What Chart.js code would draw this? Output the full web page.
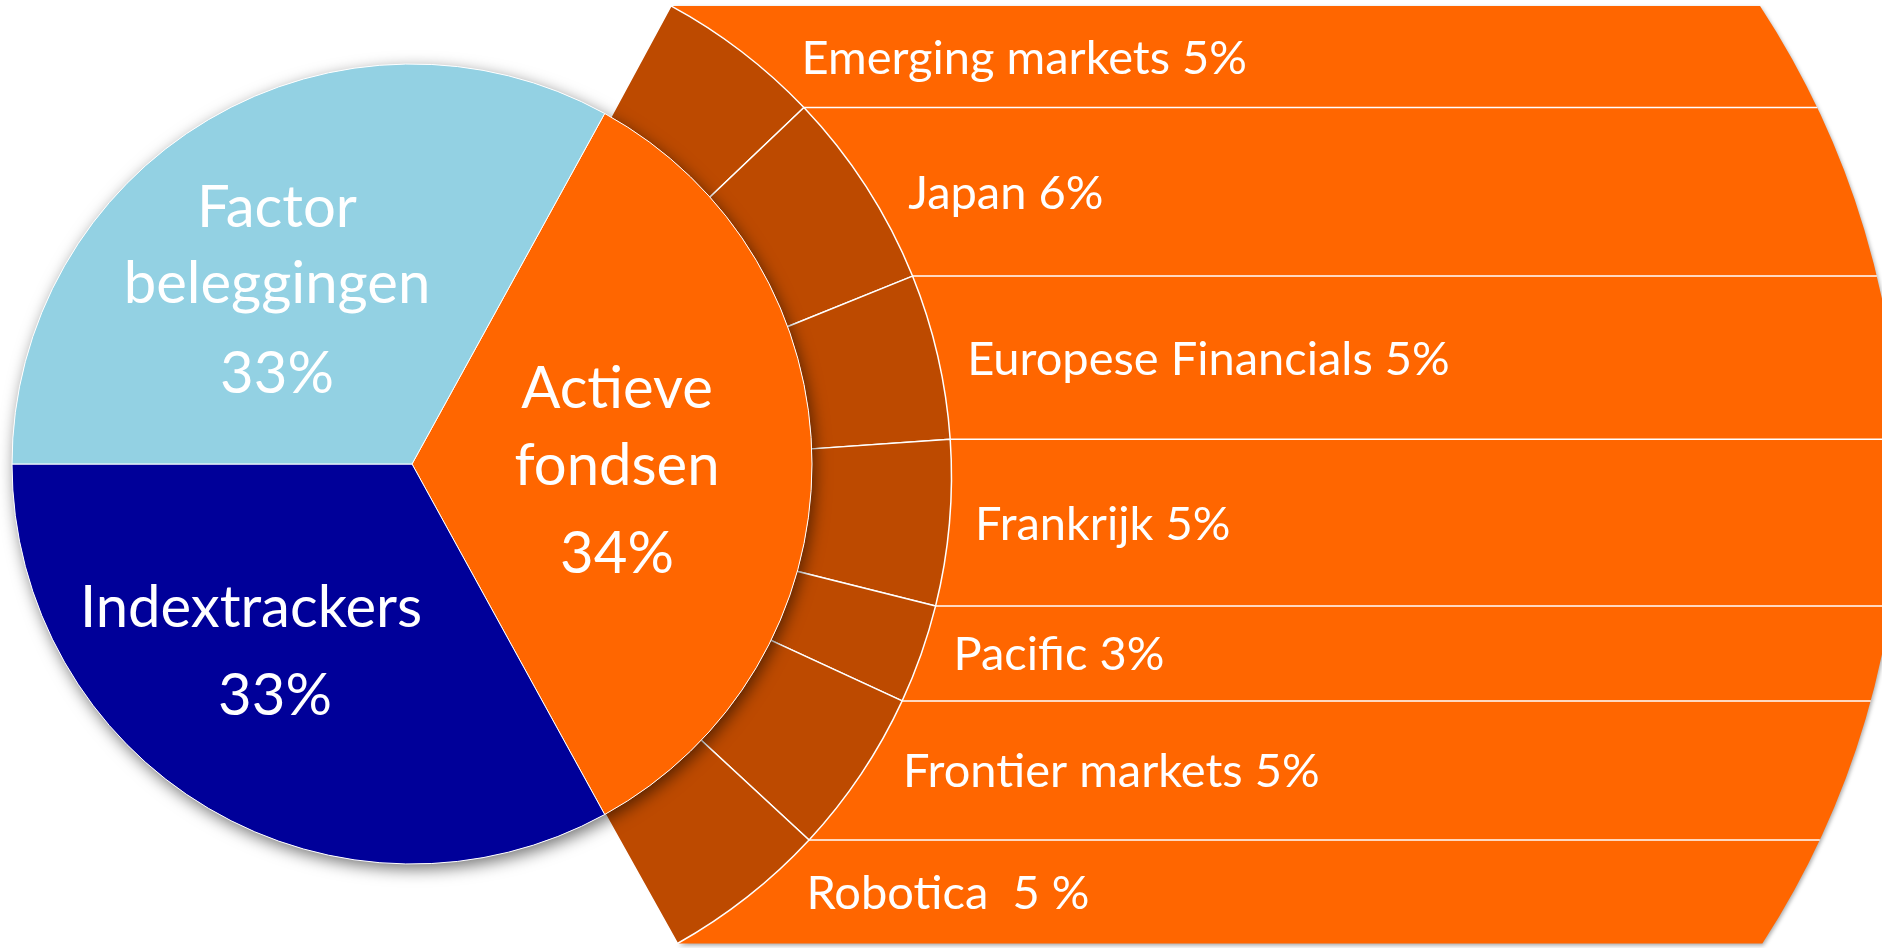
<!DOCTYPE html>
<html>
<head>
<meta charset="utf-8">
<script src="https://cdn.jsdelivr.net/npm/chart.js@4.4.1/dist/chart.umd.min.js"></script>
<style>
  html, body { margin: 0; padding: 0; background: #fff; overflow: hidden; width: 1882px; height: 948px; }
  canvas { position: absolute; }
  #ring { left: -120px; top: -60px; z-index: 1; }
  #pie { left: -18px; top: 34px; z-index: 2; }
</style>
</head>
<body>
<canvas id="ring" width="2002" height="1073"></canvas>
<canvas id="pie" width="860" height="860"></canvas>
<script>
// main split (clockwise, starting at the top edge of "Actieve fondsen")
const mainLabels = ['Actieve fondsen', 'Indextrackers', 'Factor beleggingen'];
const mainValues = [34, 33, 33];
const mainColors = ['#ff6600', '#000099', '#93d1e3'];

// breakdown of the active funds
const fundLabels = ['Emerging markets', 'Japan', 'Europese Financials', 'Frankrijk', 'Pacific', 'Frontier markets', 'Robotica '];
const fundValues = [5, 6, 5, 5, 3, 5, 5];
const fundPercents = ['5%', '6%', '5%', '5%', '3%', '5%', '5 %'];

const ringDark = '#bd4a00';
const bandOrange = '#ff6600';

// band labels + the orange strips behind the outer ring
const bandPlugin = {
  id: 'bands',
  beforeDatasetsDraw(chart) {
    const ctx = chart.ctx;
    const arcs = chart.getDatasetMeta(0).data;
    const cx = arcs[0].x, cy = arcs[0].y, R = arcs[0].outerRadius;
    const angles = [arcs[0].startAngle].concat(fundValues.map((v, i) => arcs[i].endAngle));
    const n = angles.length - 1;
    const xs = angles.map(a => cx + R * Math.cos(a));
    const ys = angles.map(a => cy + R * Math.sin(a));
    const bx = cx + 1.17 * R, bR = 1.604 * R;
    const bigX = y => bx + Math.sqrt(bR * bR - (y - cy) * (y - cy));

    ctx.save();
    ctx.shadowColor = 'rgba(0,0,0,0.35)';
    ctx.shadowBlur = 4;
    ctx.shadowOffsetX = 1;
    ctx.shadowOffsetY = 2;
    ctx.beginPath();
    ctx.moveTo(xs[0], ys[0]);
    ctx.lineTo(bigX(ys[0]), ys[0]);
    ctx.arc(bx, cy, bR, Math.asin((ys[0] - cy) / bR), Math.asin((ys[n] - cy) / bR), false);
    ctx.lineTo(xs[n], ys[n]);
    ctx.arc(cx, cy, R, angles[n], angles[0], true);
    ctx.closePath();
    ctx.fillStyle = bandOrange;
    ctx.fill();
    ctx.restore();

    ctx.save();
    ctx.strokeStyle = '#fff';
    ctx.lineWidth = 1.5;
    for (let i = 1; i < n; i++) {
      ctx.beginPath();
      ctx.moveTo(xs[i], ys[i]);
      ctx.lineTo(bigX(ys[i]), ys[i]);
      ctx.stroke();
    }
    ctx.restore();
  },
  afterDatasetsDraw(chart) {
    const ctx = chart.ctx;
    const arcs = chart.getDatasetMeta(0).data;
    const cx = arcs[0].x, cy = arcs[0].y, R = arcs[0].outerRadius;
    ctx.save();
    ctx.fillStyle = '#fff';
    ctx.font = '47px Lato';
    ctx.textAlign = 'left';
    ctx.textBaseline = 'alphabetic';
    fundLabels.forEach((label, i) => {
      const y0 = cy + R * Math.sin(arcs[i].startAngle);
      const y1 = cy + R * Math.sin(arcs[i].endAngle);
      const mid = (y0 + y1) / 2;
      const yNear = mid < cy ? Math.min(mid + 25, cy) : Math.max(mid - 25, cy);
      const x = cx + Math.sqrt(R * R - (yNear - cy) * (yNear - cy)) + 24;
      ctx.fillText(label + ' ' + fundPercents[i], x, mid + 17);
    });
    ctx.restore();
  }
};

new Chart(document.getElementById('ring'), {
  type: 'doughnut',
  data: {
    labels: fundLabels.concat(mainLabels.slice(1)),
    datasets: [{
      data: fundValues.concat(mainValues.slice(1)),
      backgroundColor: fundValues.map(() => ringDark).concat(['rgba(0,0,0,0)', 'rgba(0,0,0,0)']),
      borderColor: fundValues.map(() => '#fff').concat(['rgba(0,0,0,0)', 'rgba(0,0,0,0)']),
      borderWidth: 1.5,
      clip: false
    }]
  },
  options: {
    responsive: false,
    animation: false,
    events: [],
    rotation: 28.4,
    cutout: '70%',
    radius: 535,
    layout: { padding: { right: 929 } },
    plugins: { legend: { display: false }, tooltip: { enabled: false } }
  },
  plugins: [bandPlugin]
});

// pie labels, placed relative to the pie centre
const pieLabelSpots = [
  [[205, -56], [205, 21], [205, 109]],
  [[-161, 163], [-137, 251]],
  [[-135, -237], [-135, -161], [-135, -71]]
];

const piePlugin = {
  id: 'pieDecor',
  beforeDatasetsDraw(chart) {
    const ctx = chart.ctx;
    const arc = chart.getDatasetMeta(0).data[0];
    ctx.save();
    ctx.shadowColor = 'rgba(0,0,0,0.55)';
    ctx.shadowBlur = 16;
    ctx.shadowOffsetX = 3;
    ctx.shadowOffsetY = 5;
    ctx.beginPath();
    ctx.arc(arc.x, arc.y, arc.outerRadius, 0, Math.PI * 2);
    ctx.fillStyle = '#fff';
    ctx.fill();
    ctx.restore();
  },
  afterDatasetsDraw(chart) {
    const ctx = chart.ctx;
    const arc = chart.getDatasetMeta(0).data[0];
    ctx.save();
    ctx.fillStyle = '#fff';
    ctx.font = '58px Lato';
    ctx.textAlign = 'center';
    ctx.textBaseline = 'alphabetic';
    mainLabels.forEach((label, i) => {
      const lines = label.split(' ').concat([mainValues[i] + '%']);
      lines.forEach((t, k) => {
        const [dx, dy] = pieLabelSpots[i][k];
        ctx.fillText(t, arc.x + dx, arc.y + dy);
      });
    });
    ctx.restore();
  }
};

new Chart(document.getElementById('pie'), {
  type: 'pie',
  data: {
    labels: mainLabels,
    datasets: [{
      data: mainValues,
      backgroundColor: mainColors,
      borderColor: '#fff',
      borderWidth: 1,
      clip: false
    }]
  },
  options: {
    responsive: false,
    animation: false,
    events: [],
    rotation: 28.8,
    radius: 400,
    plugins: { legend: { display: false }, tooltip: { enabled: false } }
  },
  plugins: [piePlugin]
});
</script>
</body>
</html>
